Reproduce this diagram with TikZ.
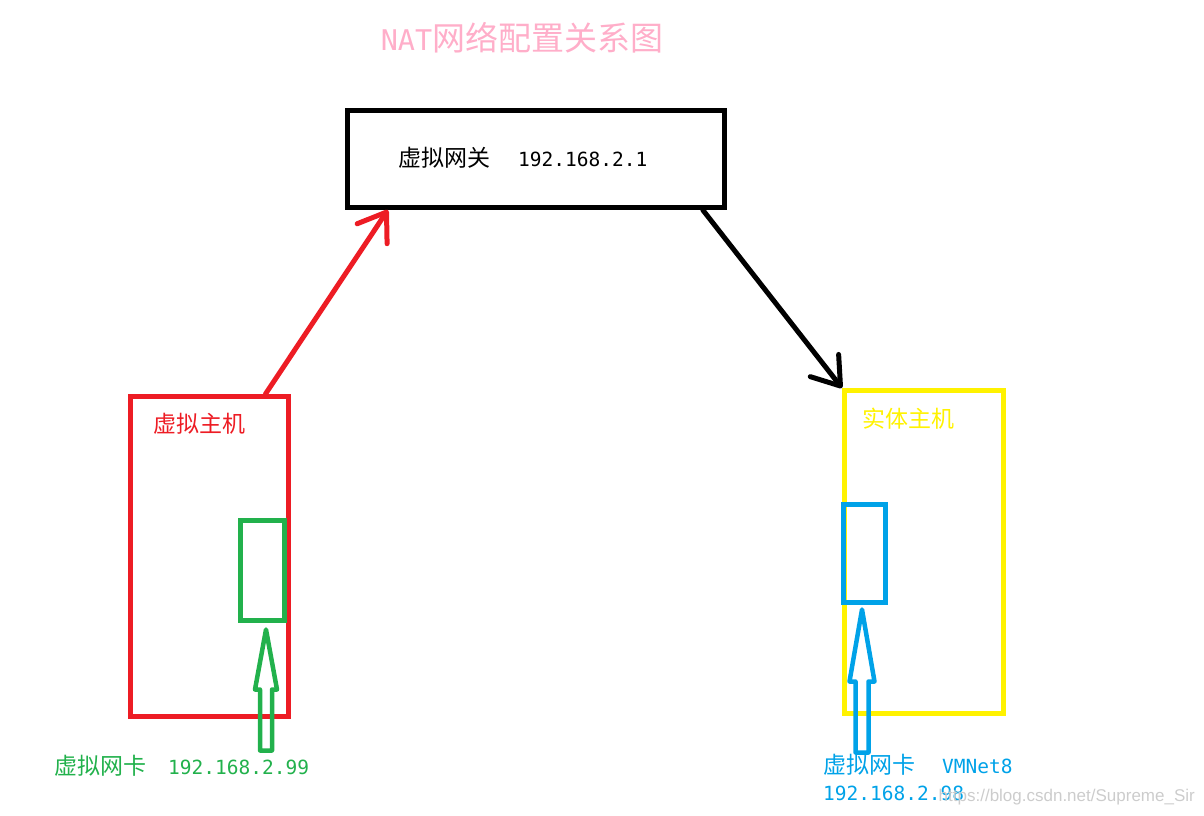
\documentclass[tikz,border=0pt]{standalone}
\usepackage{fontspec}
\newfontfamily\cjk{Noto Sans CJK SC}
\newfontfamily\latin{DejaVu Sans Mono}
\newfontfamily\wmfont{Liberation Sans}
\usetikzlibrary{arrows.meta}
\definecolor{paintred}{RGB}{237,28,36}
\definecolor{paintgreen}{RGB}{34,177,76}
\definecolor{paintyellow}{RGB}{255,242,0}
\definecolor{paintblue}{RGB}{0,162,232}
\definecolor{paintpink}{RGB}{255,174,201}
\newcommand{\num}[1]{{\latin\fontsize{19.5}{24}\selectfont #1}}
\begin{document}
\begin{tikzpicture}[x=1pt,y=-1pt,
    box/.style={draw,rectangle,line width=5pt,inner sep=0pt},
    txt/.style={font=\cjk\fontsize{23}{28}\selectfont,inner sep=0pt,anchor=west},
    link/.style={line width=5pt,line cap=round,-{Straight Barb[round,length=26pt,width=36pt]}},
    hollow/.style={line width=4.5pt,line join=round}]
        %% Canvas
        \useasboundingbox (0,0) rectangle (1204,815);
        %% Title
        \node[font=\cjk\fontsize{33}{40}\selectfont,text=paintpink,inner sep=0pt] (title) at (522,38) {{\latin\fontsize{28.5}{34}\selectfont NAT}网络配置关系图};
        %% Gateway
        \node[box,minimum width=377pt,minimum height=97pt] (gw) at (536,159) {};
        \node[txt] (gwtext) at (398,158) {虚拟网关\hspace*{28pt}\num{192.168.2.1}};
        %% Virtual host and its card
        \node[box,draw=paintred,minimum width=158pt,minimum height=320pt] (vhost) at (209.5,556.5) {};
        \node[txt,text=paintred] (vhostname) at (153,424) {虚拟主机};
        \node[box,draw=paintgreen,minimum width=44pt,minimum height=100pt] (vnic) at (262.5,570.5) {};
        %% Real host and VMNet8
        \node[box,draw=paintyellow,minimum width=159pt,minimum height=323pt] (phost) at (924,552) {};
        \node[txt,text=paintyellow] (phostname) at (862,419) {实体主机};
        \node[box,draw=paintblue,minimum width=42pt,minimum height=98pt] (pnic) at (864,553) {};
        %% Links
        \draw[link,paintred] (vhost.71) -- (gw.199);
        \draw[link] (gw.343) -- (phost.north west);
        %% Hollow arrows
        \coordinate (vtip) at ([xshift=3.5pt,yshift=-6.5pt]vnic.south);
        \draw[hollow,paintgreen] (vtip) -- ++(11,60) -- ++(-5,0) -- ++(0,61) -- ++(-12,0) -- ++(0,-61) -- ++(-5,0) -- cycle;
        \coordinate (ptip) at ([xshift=-2pt,yshift=-5pt]pnic.south);
        \draw[hollow,paintblue] (ptip) -- ++(12.5,72) -- ++(-6,0) -- ++(0,71) -- ++(-13,0) -- ++(0,-71) -- ++(-6,0) -- cycle;
        %% Labels
        \node[txt,text=paintgreen] (vniclabel) at (54,766) {虚拟网卡\hspace*{22pt}\num{192.168.2.99}};
        \node[txt,text=paintblue] (pniclabel) at (823,765) {虚拟网卡\hspace*{27pt}\num{VMNet8}};
        \node[txt,text=paintblue] (pnicip) at (823,793) {\num{192.168.2.98}};
        \node[font=\wmfont\fontsize{17}{20}\selectfont,text=gray!40,inner sep=0pt,anchor=east] (mark) at (1195,797) {https://blog.csdn.net/Supreme\_Sir};
\end{tikzpicture}
\end{document}
